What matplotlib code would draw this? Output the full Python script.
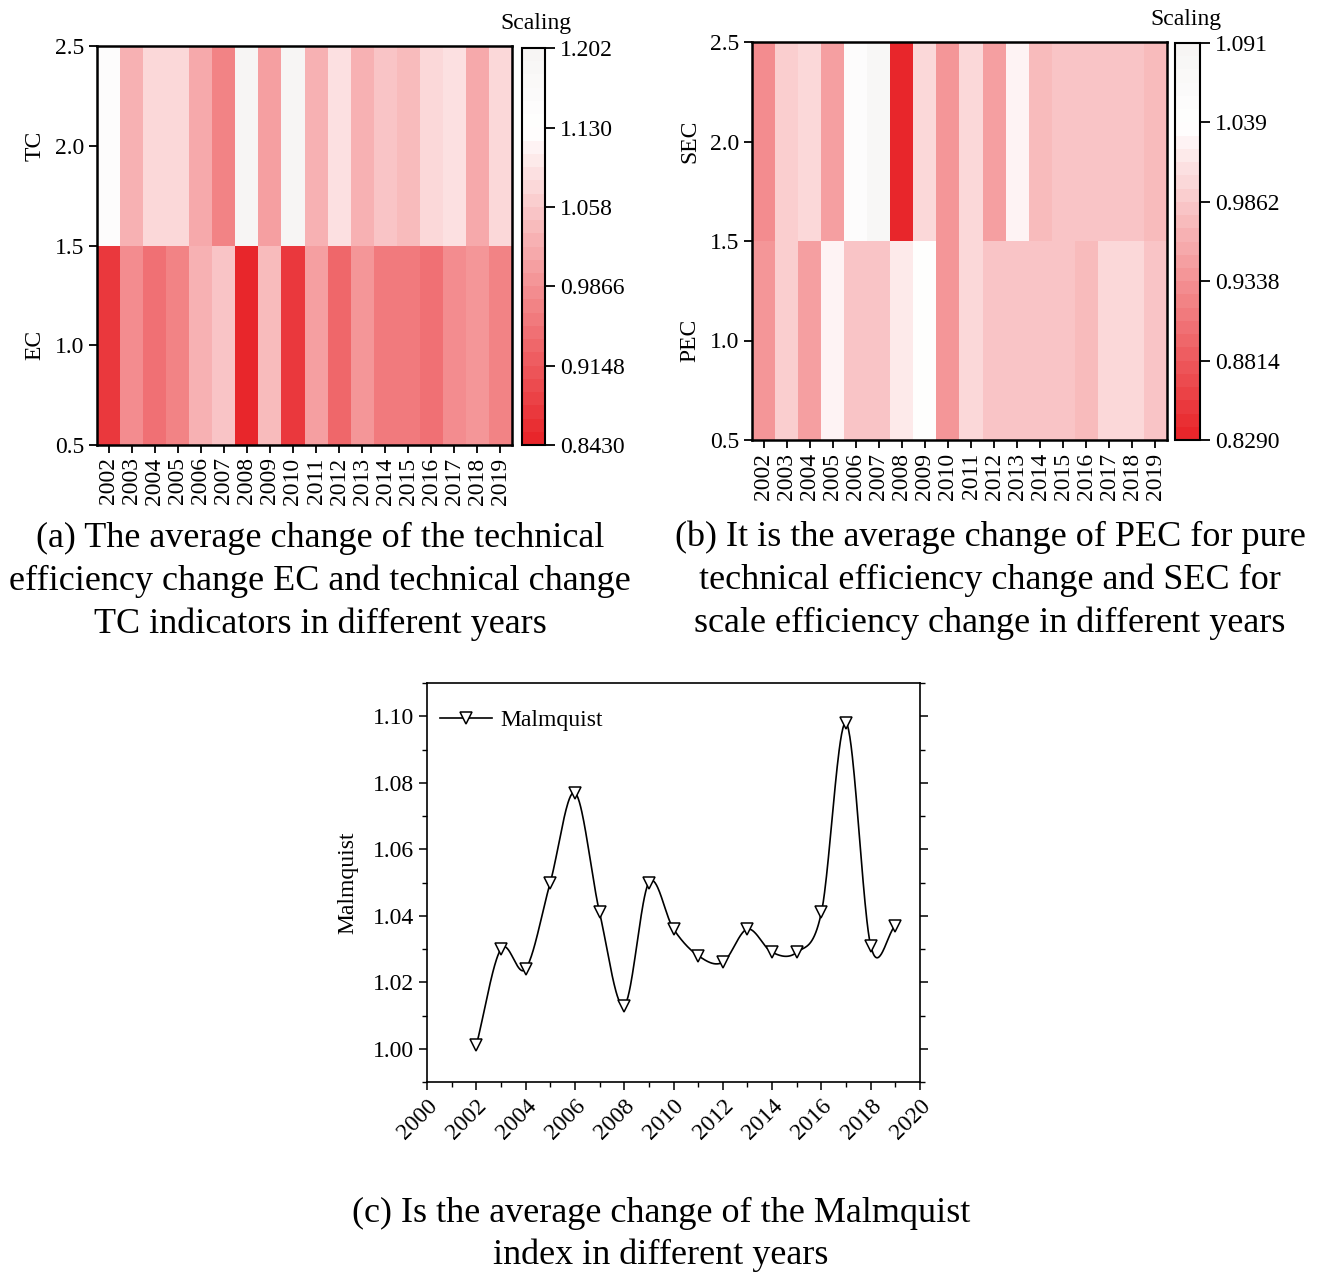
import numpy as np
import matplotlib
matplotlib.use("Agg")
import matplotlib.pyplot as plt
import matplotlib.transforms as mtransforms
from matplotlib.colors import LinearSegmentedColormap, BoundaryNorm

plt.rcParams["font.family"] = ["Liberation Serif", "DejaVu Serif"]

# ── data ────────────────────────────────────────────────────────────────
years = list(range(2002, 2020))
year_labels = [str(y) for y in years]

tc = [1.150, 1.034, 1.077, 1.077, 1.022, 0.964, 1.195, 1.003, 1.195,
      1.027, 1.083, 1.024, 1.053, 1.045, 1.080, 1.091, 1.014, 1.071]
ec = [0.874, 0.977, 0.947, 0.974, 1.033, 1.049, 0.844, 1.046, 0.875,
      1.003, 0.931, 0.995, 0.952, 0.956, 0.946, 0.986, 0.988, 0.966]

sec = [0.929, 0.990, 0.999, 0.951, 1.050, 1.080, 0.830, 1.002, 0.934,
       0.998, 0.951, 1.024, 0.973, 0.979, 0.979, 0.979, 0.979, 0.975]
pec = [0.939, 0.988, 0.951, 1.024, 0.979, 0.979, 1.014, 1.045, 0.935,
       1.002, 0.979, 0.979, 0.979, 0.985, 0.969, 1.003, 0.998, 0.983]

malmquist = [1.001, 1.030, 1.024, 1.050, 1.077, 1.041, 1.013, 1.050, 1.036,
             1.028, 1.026, 1.036, 1.029, 1.029, 1.041, 1.098, 1.031, 1.037]

cbar_a_ticks = [0.8430, 0.9148, 0.9866, 1.058, 1.130, 1.202]
cbar_a_labels = ["0.8430", "0.9148", "0.9866", "1.058", "1.130", "1.202"]
cbar_b_ticks = [0.8290, 0.8814, 0.9338, 0.9862, 1.039, 1.091]
cbar_b_labels = ["0.8290", "0.8814", "0.9338", "0.9862", "1.039", "1.091"]

caption_a = ["(a) The average change of the technical",
             "efficiency change EC and technical change",
             "TC indicators in different years"]
caption_b = ["(b) It is the average change of PEC for pure",
             "technical efficiency change and SEC for",
             "scale efficiency change in different years"]
caption_c = ["(c) Is the average change of the Malmquist",
             "index in different years"]

# ── style ───────────────────────────────────────────────────────────────
W, H = 1317, 1273
TICK_FS = 17
CAP_FS = 26
cmap = LinearSegmentedColormap.from_list(
    "redwhite", [(0.0, "#e8262b"), (0.8, "#ffffff"), (1.0, "#f7f5f4")])


def px_rect(x0, y0, x1, y1):
    return [x0 / W, 1 - y1 / H, (x1 - x0) / W, (y1 - y0) / H]


fig = plt.figure(figsize=(W / 100, H / 100), dpi=100, facecolor="white")


def heatmap(rect, crect, low, high, top_label, bot_label, ticks, labels, scal_xy):
    ax = fig.add_axes(px_rect(*rect))
    cax = fig.add_axes(px_rect(*crect))
    vmin, vmax = ticks[0], ticks[-1]
    levels = np.linspace(vmin, vmax, 31)
    norm = BoundaryNorm(levels, cmap.N)
    data = np.array([low, high])
    x_edges = np.arange(len(years) + 1) - 0.5
    y_edges = np.array([0.5, 1.5, 2.5])
    mesh = ax.pcolormesh(x_edges, y_edges, data, cmap=cmap, norm=norm)
    ax.set_xlim(-0.5, len(years) - 0.5)
    ax.set_ylim(0.5, 2.5)
    ax.set_xticks(range(len(years)))
    ax.set_xticklabels(year_labels, rotation=90, fontsize=TICK_FS)
    ax.set_yticks([0.5, 1.0, 1.5, 2.0, 2.5])
    ax.set_yticklabels(["0.5", "1.0", "1.5", "2.0", "2.5"], fontsize=TICK_FS)
    ax.tick_params(direction="out", length=6, width=1.3, pad=3)
    for s in ax.spines.values():
        s.set_linewidth(1.8)
    tr = mtransforms.blended_transform_factory(ax.transAxes, ax.transData)
    ax.text(-0.15, 2.0, top_label, rotation=90, ha="center", va="center",
            fontsize=TICK_FS, transform=tr)
    ax.text(-0.15, 1.0, bot_label, rotation=90, ha="center", va="center",
            fontsize=TICK_FS, transform=tr)

    cb = fig.colorbar(mesh, cax=cax, ticks=ticks)
    cb.ax.set_yticklabels(labels, fontsize=TICK_FS)
    cb.ax.tick_params(direction="out", length=7, width=1.3, pad=4)
    cb.outline.set_linewidth(1.5)
    cb.ax.minorticks_off()
    fig.text(scal_xy[0] / W, 1 - scal_xy[1] / H, "Scaling", ha="center",
             va="center", fontsize=TICK_FS)
    return ax


heatmap((97, 46, 512, 445), (522, 48, 545, 445), ec, tc, "TC", "EC",
        cbar_a_ticks, cbar_a_labels, (536, 24))
heatmap((752, 42, 1167, 440), (1175, 43, 1200, 440), pec, sec, "SEC", "PEC",
        cbar_b_ticks, cbar_b_labels, (1186, 20))


# Catmull-Rom style spline through the points (smoothed connecting line)
def spline_curve(x, y, n=40):
    x = np.asarray(x, float)
    y = np.asarray(y, float)
    m = np.gradient(y, x)
    xs_all, ys_all = [], []
    for i in range(len(x) - 1):
        h = x[i + 1] - x[i]
        t = np.linspace(0, 1, n)
        h00 = 2 * t**3 - 3 * t**2 + 1
        h10 = t**3 - 2 * t**2 + t
        h01 = -2 * t**3 + 3 * t**2
        h11 = t**3 - t**2
        xs_all.append(x[i] + t * h)
        ys_all.append(h00 * y[i] + h10 * h * m[i] + h01 * y[i + 1] + h11 * h * m[i + 1])
    return np.concatenate(xs_all), np.concatenate(ys_all)


axc = fig.add_axes(px_rect(427, 683, 920, 1082))
sx, sy = spline_curve(years, malmquist)
axc.plot(sx, sy, color="black", lw=1.2, zorder=2)
axc.plot(years, malmquist, linestyle="none", marker="v", ms=8.5,
         mfc="white", mec="black", mew=1.1, zorder=3)
axc.plot([], [], color="black", lw=1.2, marker="v", ms=8.5, mfc="white",
         mec="black", mew=1.1, label="Malmquist")
axc.set_xlim(2000, 2020)
axc.set_ylim(0.99, 1.11)
axc.set_xticks(range(2000, 2021, 2))
axc.set_xticks(range(2000, 2021, 1), minor=True)
axc.set_yticks([1.00, 1.02, 1.04, 1.06, 1.08, 1.10])
axc.set_yticklabels(["1.00", "1.02", "1.04", "1.06", "1.08", "1.10"], fontsize=TICK_FS)
axc.set_yticks(np.arange(0.99, 1.115, 0.01), minor=True)
axc.set_xticklabels([str(v) for v in range(2000, 2021, 2)], rotation=45,
                    ha="right", rotation_mode="anchor", fontsize=TICK_FS)
axc.tick_params(which="major", direction="out", length=6, width=1.1)
axc.tick_params(which="minor", direction="out", length=3.5, width=1.0)
axc.tick_params(which="both", right=True, labelright=False)
axc.set_ylabel("Malmquist", fontsize=TICK_FS, labelpad=10)
for s in axc.spines.values():
    s.set_linewidth(1.2)
axc.legend(loc="upper left", bbox_to_anchor=(0.007, 0.957), frameon=False,
           fontsize=TICK_FS, handlelength=2.2, borderaxespad=0, borderpad=0.4,
           handletextpad=0.34)

# captions
for i, line in enumerate(caption_a):
    fig.text(320 / W, 1 - (538 + 43 * i) / H, line, ha="center", va="center",
             fontsize=CAP_FS)
for i, line in enumerate(caption_b):
    fig.text(990 / W, 1 - (537 + 43 * i) / H, line, ha="center", va="center",
             fontsize=CAP_FS)
for i, line in enumerate(caption_c):
    fig.text(661 / W, 1 - (1213 + 42 * i) / H, line, ha="center", va="center",
             fontsize=CAP_FS)

fig.savefig("out.png", dpi=100, facecolor="white")
